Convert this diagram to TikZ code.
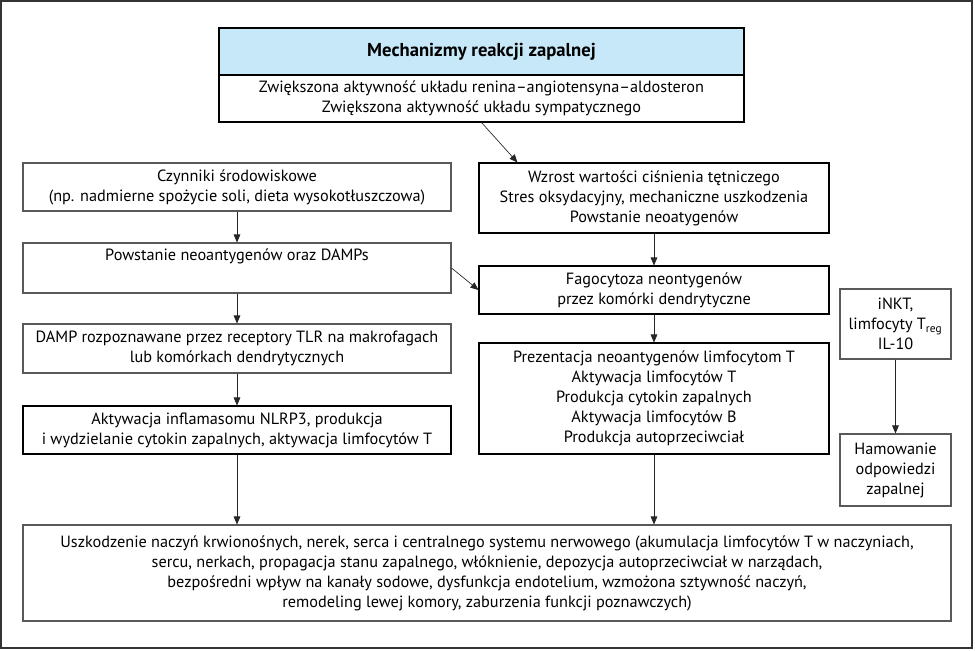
\documentclass[tikz,border=0pt]{standalone}
\usepackage{fontspec}
\setmainfont{PT Sans}
\usetikzlibrary{arrows.meta}
\definecolor{titleblue}{RGB}{199,232,248}
\begin{document}
\begin{tikzpicture}[x=0.75pt,y=-0.75pt,
  box/.style={draw=black!65, line width=0.8pt, fill=white, align=center, inner sep=0pt,
    font=\fontsize{12.2}{15}\selectfont},
  darkbox/.style={box, draw=black},
  arr/.style={-{Triangle[length=6pt,width=5pt]}, line width=0.5pt, draw=black!85}]
\useasboundingbox (0,0) rectangle (975,650);
\draw[line width=1pt, draw=black!80] (1,1) rectangle (972,648);

\node[darkbox, fill=titleblue, minimum width=393.75pt, minimum height=35.25pt,
  font=\bfseries\fontsize{14}{15}\selectfont] (tt) at (481.5,51.5) {Mechanizmy reakcji zapalnej};
\node[darkbox, minimum width=393.75pt, minimum height=35.25pt] (tw) at (481.5,98.5)
  {Zwiększona aktywność układu renina–angiotensyna–aldosteron\\Zwiększona aktywność układu sympatycznego};

\node[box, minimum width=321pt, minimum height=36pt] (l1) at (237,187)
  {Czynniki środowiskowe\\(np. nadmierne spożycie soli, dieta wysokotłuszczowa)};
\node[box, minimum width=321pt, minimum height=37.5pt] (l2) at (237,268)
  {Powstanie neoantygenów oraz DAMPs\\\strut};
\node[box, minimum width=321pt, minimum height=36.75pt] (l3) at (237,348.5)
  {DAMP rozpoznawane przez receptory TLR na makrofagach\\lub komórkach dendrytycznych};
\node[darkbox, minimum width=321pt, minimum height=36pt] (l4) at (237,430)
  {Aktywacja inflamasomu NLRP3, produkcja\\i wydzielanie cytokin zapalnych, aktywacja limfocytów T};

\node[darkbox, minimum width=262.5pt, minimum height=52.5pt] (r1) at (654,198)
  {Wzrost wartości ciśnienia tętniczego\\Stres oksydacyjny, mechaniczne uszkodzenia\\Powstanie neoatygenów};
\node[darkbox, minimum width=262.5pt, minimum height=36pt] (r2) at (654,290)
  {Fagocytoza neontygenów\\przez komórki dendrytyczne};
\node[darkbox, minimum width=262.5pt, minimum height=83.25pt] (r3) at (654,398.5)
  {Prezentacja neoantygenów limfocytom T\\Aktywacja limfocytów T\\Produkcja cytokin zapalnych\\Aktywacja limfocytów B\\Produkcja autoprzeciwciał};

\node[box, minimum width=83.25pt, minimum height=52.5pt] (i1) at (895.5,324)
  {iNKT,\\limfocyty T\textsubscript{reg}\\IL-10};
\node[box, minimum width=83.25pt, minimum height=54pt] (i2) at (895.5,470)
  {Hamowanie\\odpowiedzi\\zapalnej};

\node[box, minimum width=696pt, minimum height=72pt] (bb) at (487,573)
  {Uszkodzenie naczyń krwionośnych, nerek, serca i centralnego systemu nerwowego (akumulacja limfocytów T w naczyniach,\\
   sercu, nerkach, propagacja stanu zapalnego, włóknienie, depozycja autoprzeciwciał w narządach,\\
   bezpośredni wpływ na kanały sodowe, dysfunkcja endotelium, wzmożona sztywność naczyń,\\
   remodeling lewej komory, zaburzenia funkcji poznawczych)};

\draw[arr] (tw.south) -- ([xshift=29.25pt]r1.north west);
\draw[arr] (l1) -- (l2);
\draw[arr] (l2) -- (l3);
\draw[arr] (l3) -- (l4);
\draw[arr] (l2.east) -- (r2.west);
\draw[arr] (r1) -- (r2);
\draw[arr] (r2) -- (r3);
\draw[arr] (i1) -- (i2);
\draw[arr] (l4.south) -- (l4.south |- bb.north);
\draw[arr] (r3.south) -- (r3.south |- bb.north);
\end{tikzpicture}
\end{document}
